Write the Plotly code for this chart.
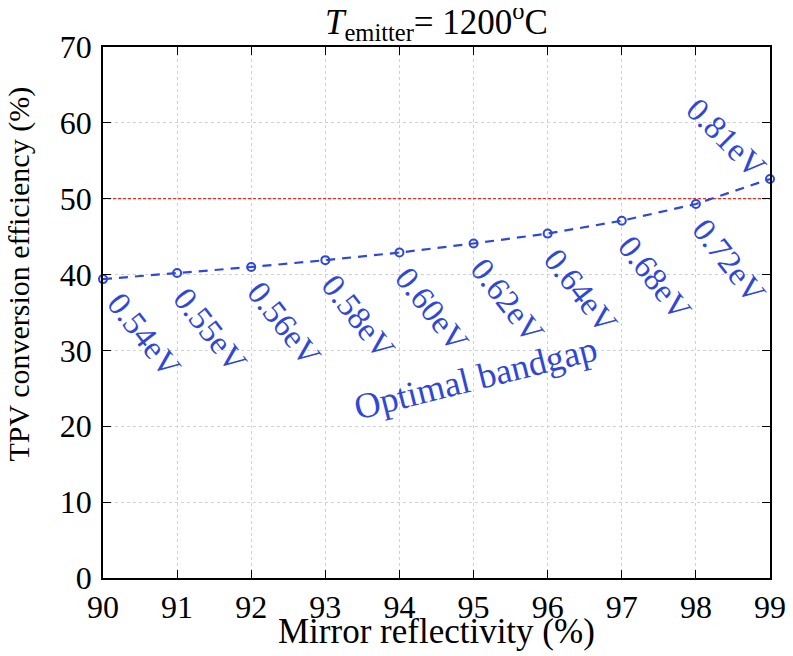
import plotly.graph_objects as go

reflectivity = [90, 91, 92, 93, 94, 95, 96, 97, 98, 99]
efficiency = [39.4, 40.2, 41.0, 41.9, 42.9, 44.1, 45.4, 47.1, 49.3, 52.6]
bandgap_labels = ["0.54eV", "0.55eV", "0.56eV", "0.58eV", "0.60eV",
                  "0.62eV", "0.64eV", "0.68eV", "0.72eV", "0.81eV"]
limit_value = 50
x_ticks = list(range(90, 100))
y_ticks = list(range(0, 80, 10))

BLUE = "#2f48d6"
FONT = "Liberation Serif"

fig = go.Figure()

fig.add_trace(go.Scatter(
    x=[reflectivity[0], reflectivity[-1]], y=[limit_value, limit_value],
    mode="lines", line=dict(color="#f02a1e", width=1.2, dash="3px,2px"),
    hoverinfo="skip", showlegend=False))

fig.add_trace(go.Scatter(
    x=reflectivity, y=efficiency, mode="lines+markers",
    line=dict(color=BLUE, width=2.2, dash="9px,7px"),
    marker=dict(symbol="circle-open", size=8, color=BLUE, line=dict(width=2, color=BLUE)),
    cliponaxis=False, showlegend=False))

annotations = []
for i, (xv, yv, lab) in enumerate(zip(reflectivity, efficiency, bandgap_labels)):
    if i == len(reflectivity) - 1:
        dx, dy, ang = -44, 41, 45
    elif i == 0:
        dx, dy, ang = 41, -56, 52
    else:
        dx, dy, ang = 33, -57, 52
    annotations.append(dict(
        x=xv, y=yv, xref="x", yref="y", text=lab, showarrow=False,
        textangle=ang, xanchor="center", yanchor="middle",
        xshift=dx, yshift=dy, font=dict(family=FONT, size=33, color=BLUE)))

annotations.append(dict(
    x=95.03, y=26.4, xref="x", yref="y", text="Optimal bandgap", showarrow=False,
    textangle=-14, xanchor="center", yanchor="middle",
    font=dict(family=FONT, size=36, color=BLUE)))

# chart title
annotations.append(dict(
    x=0.5, y=1.0, xref="paper", yref="paper", yshift=-1,
    text="<i>T</i><sub>emitter</sub>= 1200<sup>o</sup>C", showarrow=False,
    xanchor="center", yanchor="bottom",
    font=dict(family=FONT, size=35, color="black")))

# axis titles
annotations.append(dict(
    x=0.5, y=0.0, xref="paper", yref="paper", yshift=-53,
    text="Mirror reflectivity (%)", showarrow=False,
    xanchor="center", yanchor="middle",
    font=dict(family=FONT, size=35, color="black")))
annotations.append(dict(
    x=0.0, y=0.5716, xref="paper", yref="paper", xshift=-84,
    text="TPV conversion efficiency (%)", showarrow=False, textangle=-90,
    xanchor="center", yanchor="middle",
    font=dict(family=FONT, size=30, color="black")))

axis_common = dict(
    showline=True, linecolor="black", linewidth=1.5, mirror="ticks",
    ticks="inside", ticklen=8, tickwidth=1.3, tickcolor="black",
    showgrid=True, gridcolor="#cfd3d3", gridwidth=1, griddash="dot",
    zeroline=False, automargin=False,
    tickfont=dict(family=FONT, size=32, color="black"))

# the page body adds an 8px offset, so the figure is 8px smaller and shifted
fig.update_layout(
    width=785, height=648,
    margin=dict(l=95, r=23, t=39, b=78),
    paper_bgcolor="white", plot_bgcolor="white",
    annotations=annotations,
    xaxis=dict(range=[90, 99], tickvals=x_ticks, **axis_common),
    yaxis=dict(range=[0, 70], tickvals=y_ticks, ticklabelstandoff=3, **axis_common),
)

fig.write_html("out.html")
